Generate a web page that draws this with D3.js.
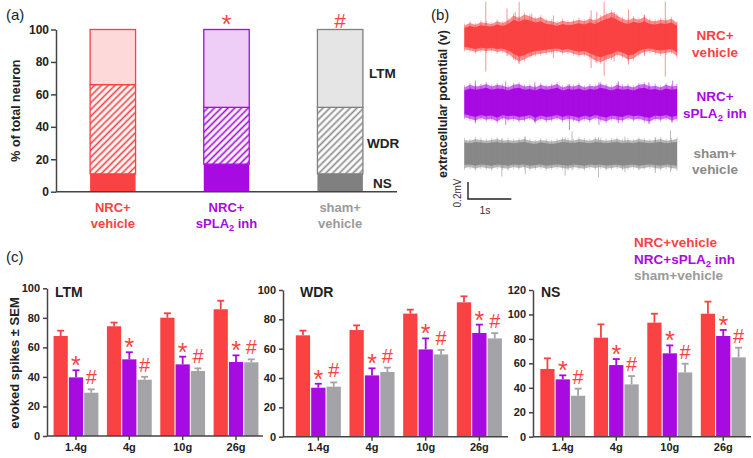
<!DOCTYPE html>
<html>
<head>
<meta charset="utf-8">
<script src="https://cdn.jsdelivr.net/npm/d3@7"></script>
<style>
  html, body { margin: 0; padding: 0; background: #fff; }
  svg { display: block; font-family: "Liberation Sans", Arial, sans-serif; }
  .axis path, .axis line { stroke: #444; stroke-width: 1.5; }
  .axis text { font-weight: bold; fill: #222; }
</style>
</head>
<body>
<svg id="fig" width="753" height="458"></svg>
<script>
/* ============================================
   DATA
   ============================================ */

// (a) neuron type proportions, % of total
const groups = ['NRC+vehicle', 'NRC+sPLA2 inh', 'sham+vehicle'];
const pctNS  = [11, 17, 11];
const pctWDR = [55, 35, 41];
const pctLTM = [34, 48, 48];
const pctTicks = [0, 20, 40, 60, 80, 100];

// (b) recorded traces: envelope (mV above / below baseline) + spikes
const redTop    = [0.14,0.17,0.15,0.18,0.17,0.16,0.19,0.17,0.20,0.26,0.23,0.27,0.25,0.22,0.24,0.20,0.19,0.17,0.20,0.18,
                   0.19,0.21,0.19,0.22,0.20,0.24,0.27,0.30,0.26,0.22,0.20,0.23,0.21,0.24,0.20,0.19,0.21,0.20,0.22,0.17];
const redBottom = [0.14,0.15,0.17,0.15,0.16,0.15,0.17,0.16,0.19,0.24,0.28,0.26,0.22,0.20,0.19,0.18,0.17,0.16,0.18,0.17,
                   0.19,0.21,0.20,0.23,0.27,0.29,0.26,0.24,0.20,0.22,0.26,0.25,0.20,0.17,0.16,0.18,0.19,0.18,0.17,0.22];
const redSpikeT    = [0.49, 0.98, 1.17, 1.26, 1.55, 2.05, 2.92, 3.05, 3.22, 3.45, 3.78, 4.15, 4.63];
const redSpikeUp   = [0.42, 0.34, 0.30, 0.42, 0.28, 0.26, 0.32, 0.30, 0.42, 0.30, 0.33, 0.27, 0.42];
const redSpikeDown = [0.40, 0.22, 0.27, 0.31, 0.22, 0.24, 0.36, 0.30, 0.45, 0.28, 0.32, 0.22, 0.46];

const purTop    = [0.18,0.21,0.19,0.20,0.22,0.19,0.21,0.20,0.18,0.21,0.22,0.19,0.20,0.18,0.21,0.19,0.20,0.22,0.18,0.20,
                   0.19,0.21,0.18,0.20,0.19,0.22,0.20,0.18,0.21,0.19,0.20,0.18,0.21,0.22,0.19,0.20,0.18,0.21,0.19,0.20];
const purBottom = [0.17,0.19,0.21,0.18,0.20,0.19,0.22,0.18,0.20,0.19,0.21,0.20,0.18,0.22,0.19,0.21,0.20,0.18,0.21,0.19,
                   0.20,0.22,0.19,0.21,0.18,0.20,0.22,0.19,0.20,0.21,0.18,0.20,0.19,0.21,0.22,0.19,0.20,0.18,0.21,0.19];
const purSpikeT    = [0.25, 0.95, 1.62, 2.42, 3.10, 3.55, 4.25, 4.80];
const purSpikeUp   = [0.26, 0.25, 0.24, 0.22, 0.24, 0.25, 0.24, 0.26];
const purSpikeDown = [0.24, 0.26, 0.23, 0.32, 0.26, 0.24, 0.25, 0.23];

const grayTop    = [0.16,0.15,0.17,0.16,0.15,0.16,0.17,0.15,0.16,0.15,0.16,0.17,0.15,0.14,0.16,0.15,0.14,0.15,0.17,0.16,
                    0.15,0.17,0.16,0.15,0.17,0.16,0.15,0.16,0.17,0.15,0.16,0.15,0.17,0.16,0.15,0.16,0.17,0.15,0.16,0.17];
const grayBottom = [0.17,0.16,0.18,0.16,0.17,0.18,0.16,0.17,0.18,0.16,0.17,0.16,0.18,0.17,0.16,0.18,0.17,0.16,0.17,0.18,
                    0.16,0.17,0.18,0.16,0.17,0.16,0.18,0.17,0.16,0.18,0.17,0.16,0.18,0.17,0.16,0.17,0.18,0.16,0.17,0.18];
const graySpikeT    = [0.86, 1.40, 2.32, 2.48, 3.09, 3.70, 4.40, 4.75];
const graySpikeUp   = [0.18, 0.20, 0.19, 0.26, 0.19, 0.20, 0.19, 0.27];
const graySpikeDown = [0.27, 0.24, 0.26, 0.20, 0.28, 0.22, 0.23, 0.22];

// (c) evoked spikes, mean and SEM; rows follow `groups`
const forces = ['1.4g', '4g', '10g', '26g'];
const ltmMean = [[67.7, 74.3, 80.1, 85.8], [39.7, 51.9, 48.5, 50.1], [29.3, 38.1, 44.0, 49.9]];
const ltmSem  = [[3.6, 2.5, 3.0, 5.8],     [4.8, 4.8, 5.2, 4.5],     [2.3, 2.0, 1.8, 2.0]];
const wdrMean = [[69.1, 72.7, 83.9, 91.6], [33.4, 41.8, 59.5, 70.7], [34.1, 44.1, 56.1, 67.0]];
const wdrSem  = [[3.2, 3.2, 2.7, 4.1],     [2.7, 4.8, 7.5, 5.7],     [2.9, 3.0, 3.0, 3.6]];
const nsMean  = [[55.4, 81.0, 93.3, 100.6], [46.9, 58.6, 68.2, 82.4], [33.5, 42.8, 52.6, 64.9]];
const nsSem   = [[8.7, 10.9, 7.3, 9.9],     [3.3, 4.9, 6.5, 4.9],     [5.8, 6.8, 7.1, 7.9]];
const ticks100 = [0, 20, 40, 60, 80, 100];
const ticks120 = [0, 20, 40, 60, 80, 100, 120];

/* ============================================
   STYLE
   ============================================ */

const RED = '#fa4242', PURPLE = '#a80ae2', GRAY = '#a3a3a8';
const colors  = [RED, PURPLE, GRAY];
const darkCol = [RED, PURPLE, '#808080'];          // NS segments in (a)
const lightCol = ['#fdd9d9', '#eecdf7', '#e5e5e5'];  // LTM segments in (a)
const hatchCol = [RED, PURPLE, '#8c8c8c'];
const labelCol = [RED, PURPLE, '#9a9a9a'];

const svg = d3.select('#fig');
const defs = svg.append('defs');

hatchCol.forEach((c, i) => {
  const p = defs.append('pattern')
    .attr('id', 'hatch' + i)
    .attr('patternUnits', 'userSpaceOnUse')
    .attr('width', 4.8).attr('height', 4.8)
    .attr('patternTransform', 'rotate(45)');
  p.append('rect').attr('width', 4.8).attr('height', 4.8).attr('fill', '#fff');
  p.append('line').attr('x1', 2.4).attr('x2', 2.4).attr('y1', 0).attr('y2', 4.8)
    .attr('stroke', c).attr('stroke-width', 1.7);
});

// group name with a subscript 2 in "sPLA2"
function groupLabel(sel, name) {
  const parts = name.split('sPLA2');
  if (parts.length === 1) { sel.text(name); return; }
  sel.append('tspan').text(parts[0] + 'sPLA');
  sel.append('tspan').attr('font-size', '0.7em').attr('dy', 3).text('2');
  sel.append('tspan').attr('dy', -3).text(parts[1]);
}

function panelTag(x, y, t) {
  svg.append('text').attr('x', x).attr('y', y)
    .attr('font-size', 15).attr('fill', '#222').text(t);
}

/* ============================================
   (a) STACKED PERCENTAGES
   ============================================ */

(function drawA() {
  panelTag(6, 20, '(a)');

  const y = d3.scaleLinear().domain([0, 100]).range([191.7, 29.5]);
  const x = d3.scaleBand().domain(groups).range([56, 397]).paddingInner(0.6).paddingOuter(0.3);

  const g = svg.append('g');

  groups.forEach((grp, i) => {
    const segs = [
      { lo: 0, hi: pctNS[i], fill: darkCol[i] },
      { lo: pctNS[i], hi: pctNS[i] + pctWDR[i], fill: `url(#hatch${i})` },
      { lo: pctNS[i] + pctWDR[i], hi: pctNS[i] + pctWDR[i] + pctLTM[i], fill: lightCol[i] }
    ];
    g.selectAll(null).data(segs).join('rect')
      .attr('x', x(grp))
      .attr('width', x.bandwidth())
      .attr('y', d => y(d.hi))
      .attr('height', d => y(d.lo) - y(d.hi))
      .attr('fill', d => d.fill)
      .attr('stroke', (d, k) => k === 0 ? 'none' : darkCol[i])
      .attr('stroke-width', 1.3);

    const lab = g.append('text')
      .attr('x', x(grp) + x.bandwidth() / 2)
      .attr('text-anchor', 'middle')
      .attr('font-size', 13).attr('font-weight', 'bold')
      .attr('fill', labelCol[i]);
    const first = grp.startsWith('sham') ? 'sham+' : 'NRC+';
    lab.append('tspan').attr('y', 212).text(first);
    const second = g.append('text')
      .attr('x', x(grp) + x.bandwidth() / 2).attr('y', 228)
      .attr('text-anchor', 'middle')
      .attr('font-size', 13).attr('font-weight', 'bold')
      .attr('fill', labelCol[i]);
    groupLabel(second, grp.replace(first, ''));
  });

  // significance marks
  g.append('text').attr('x', x(groups[1]) + x.bandwidth() / 2).attr('y', 33)
    .attr('text-anchor', 'middle').attr('font-size', 26).attr('fill', RED).text('*');
  g.append('text').attr('x', x(groups[2]) + x.bandwidth() / 2).attr('y', 27.5)
    .attr('text-anchor', 'middle').attr('font-size', 21).attr('fill', RED).text('#');

  const ax = g.append('g').attr('class', 'axis')
    .attr('transform', 'translate(56,0)')
    .call(d3.axisLeft(y).tickValues(pctTicks).tickSize(5).tickPadding(2).tickSizeOuter(0));
  ax.selectAll('text').attr('font-size', 12);
  g.append('line').attr('x1', 56).attr('x2', 397).attr('y1', y(0)).attr('y2', y(0))
    .attr('stroke', '#444').attr('stroke-width', 1.5);

  g.append('text')
    .attr('transform', `translate(20,${(y(0) + y(100)) / 2}) rotate(-90)`)
    .attr('text-anchor', 'middle')
    .attr('font-size', 12.5).attr('font-weight', 'bold').attr('fill', '#222')
    .text('% of total neuron');

  [['LTM', 369, 78], ['WDR', 367, 148], ['NS', 373, 188]].forEach(([t, tx, ty]) => {
    g.append('text').attr('x', tx).attr('y', ty)
      .attr('font-size', 13.5).attr('font-weight', 'bold').attr('fill', '#222').text(t);
  });
})();

/* ============================================
   (b) EXTRACELLULAR TRACES
   ============================================ */

(function drawB() {
  panelTag(431, 20, '(b)');

  const t = d3.scaleLinear().domain([0, 4.9]).range([464.5, 677]);
  const amp = d3.scaleLinear().domain([0, 0.2]).range([0, 17]);   // px per mV from scale bar

  const traces = [
    { top: redTop, bottom: redBottom, st: redSpikeT, su: redSpikeUp, sd: redSpikeDown, c: RED, y0: 37.5 },
    { top: purTop, bottom: purBottom, st: purSpikeT, su: purSpikeUp, sd: purSpikeDown, c: PURPLE, y0: 102.7 },
    { top: grayTop, bottom: grayBottom, st: graySpikeT, su: graySpikeUp, sd: graySpikeDown, c: '#888', y0: 153.5 }
  ];

  const g = svg.append('g');

  traces.forEach(tr => {
    const idx = d3.scaleLinear().domain([0, tr.top.length - 1]).range(t.range());
    const pts = tr.top.map((v, i) => i);

    // spikes first, lighter
    g.selectAll(null).data(tr.st).join('line')
      .attr('x1', d => t(d)).attr('x2', d => t(d))
      .attr('y1', (d, i) => tr.y0 - amp(tr.su[i]))
      .attr('y2', (d, i) => tr.y0 + amp(tr.sd[i]))
      .attr('stroke', tr.c).attr('stroke-width', 1).attr('opacity', 0.55);

    // outer envelope
    g.append('path').datum(pts)
      .attr('d', d3.area()
        .x(i => idx(i))
        .y0(i => tr.y0 + amp(tr.bottom[i]))
        .y1(i => tr.y0 - amp(tr.top[i]))
        .curve(d3.curveLinear))
      .attr('fill', tr.c).attr('opacity', 0.6);

    // dense core
    g.append('path').datum(pts)
      .attr('d', d3.area()
        .x(i => idx(i))
        .y0(i => tr.y0 + amp(tr.bottom[i]) * 0.8)
        .y1(i => tr.y0 - amp(tr.top[i]) * 0.8)
        .curve(d3.curveLinear))
      .attr('fill', tr.c);

    // envelope hairlines for a ragged edge
    g.selectAll(null).data(pts).join('line')
      .attr('x1', i => idx(i)).attr('x2', i => idx(i))
      .attr('y1', i => tr.y0 - amp(tr.top[i]) - 2)
      .attr('y2', i => tr.y0 + amp(tr.bottom[i]) + 2)
      .attr('stroke', tr.c).attr('stroke-width', 0.8).attr('opacity', 0.5);
  });

  // labels on the right
  const labs = [
    ['NRC+', 40, RED], ['vehicle', 57, RED],
    ['NRC+', 101, PURPLE], ['sPLA2 inh', 118, PURPLE],
    ['sham+', 158, '#8a8a8a'], ['vehicle', 174, '#8a8a8a']
  ];
  labs.forEach(([txt, ty, c]) => {
    const el = g.append('text').attr('x', 715).attr('y', ty)
      .attr('text-anchor', 'middle')
      .attr('font-size', 13.5).attr('font-weight', 'bold').attr('fill', c);
    groupLabel(el, txt);
  });

  g.append('text')
    .attr('transform', 'translate(447,104) rotate(-90)')
    .attr('text-anchor', 'middle')
    .attr('font-size', 12.5).attr('font-weight', 'bold').attr('fill', '#222')
    .text('extracellular potential (v)');

  // scale bar: 0.2 mV, 1 s
  const sx = t(0) + 3.5, sy = 199;
  g.append('path')
    .attr('d', `M${sx},${sy - amp(0.2)}V${sy}H${sx + (t(1) - t(0))}`)
    .attr('fill', 'none').attr('stroke', '#222').attr('stroke-width', 1.4);
  g.append('text').attr('transform', `translate(461,${sy - 6}) rotate(-90)`)
    .attr('text-anchor', 'middle').attr('font-size', 10).attr('fill', '#333').text('0.2mV');
  g.append('text').attr('x', sx + 17).attr('y', 213.5)
    .attr('text-anchor', 'middle').attr('font-size', 10.5).attr('fill', '#333').text('1s');
})();

/* ============================================
   (c) EVOKED SPIKES BY STIMULUS FORCE
   ============================================ */

function drawBars(opt) {
  const g = svg.append('g');
  const y = d3.scaleLinear().domain([0, opt.max]).range([opt.y0, opt.y1]);
  const x0 = d3.scaleBand().domain(forces).range([opt.xr0, opt.xr1]);
  const x1 = d3.scaleBand().domain(groups).range([0, x0.bandwidth()])
    .paddingInner(0.07).paddingOuter(0.28);
  const cap = 3.5;

  groups.forEach((grp, s) => {
    forces.forEach((f, k) => {
      const m = opt.mean[s][k], e = opt.sem[s][k];
      const bx = x0(f) + x1(grp), cx = bx + x1.bandwidth() / 2;
      g.append('line').attr('x1', cx).attr('x2', cx)
        .attr('y1', y(m)).attr('y2', y(m + e))
        .attr('stroke', colors[s]).attr('stroke-width', 1.8);
      g.append('line').attr('x1', cx - cap).attr('x2', cx + cap)
        .attr('y1', y(m + e)).attr('y2', y(m + e))
        .attr('stroke', colors[s]).attr('stroke-width', 1.8);
      g.append('rect')
        .attr('x', bx).attr('width', x1.bandwidth())
        .attr('y', y(m)).attr('height', y(0) - y(m))
        .attr('fill', colors[s]);
      if (s === 1) {
        g.append('text').attr('x', cx).attr('y', y(m + e) + 4)
          .attr('text-anchor', 'middle').attr('font-size', 25).attr('fill', RED).text('*');
      }
      if (s === 2) {
        g.append('text').attr('x', cx).attr('y', y(m + e) - 5)
          .attr('text-anchor', 'middle').attr('font-size', 20).attr('fill', RED).text('#');
      }
    });
  });

  const ay = g.append('g').attr('class', 'axis')
    .attr('transform', `translate(${opt.ax},0)`)
    .call(d3.axisLeft(y).tickValues(opt.ticks).tickSize(4).tickPadding(3).tickSizeOuter(0));
  ay.selectAll('text').attr('font-size', 11);

  const axx = g.append('g').attr('class', 'axis')
    .attr('transform', `translate(0,${opt.y0})`)
    .call(d3.axisBottom(x0).tickSize(4).tickPadding(3).tickSizeOuter(0));
  axx.select('.domain').attr('d', `M${opt.ax},0H${opt.xend}`);
  axx.selectAll('text').attr('font-size', 11);

  g.append('text').attr('x', opt.tx).attr('y', 297)
    .attr('font-size', 14).attr('font-weight', 'bold').attr('fill', '#222').text(opt.title);
}

(function drawC() {
  panelTag(6, 262, '(c)');

  drawBars({ title: 'LTM', mean: ltmMean, sem: ltmSem, max: 100, ticks: ticks100,
             y0: 436, y1: 288.3, ax: 47, xr0: 49.3, xr1: 262.7, xend: 263, tx: 55 });
  drawBars({ title: 'WDR', mean: wdrMean, sem: wdrSem, max: 100, ticks: ticks100,
             y0: 436.7, y1: 290, ax: 283, xr0: 291.5, xr1: 506.2, xend: 508, tx: 300 });
  drawBars({ title: 'NS', mean: nsMean, sem: nsSem, max: 120, ticks: ticks120,
             y0: 436.7, y1: 290, ax: 533, xr0: 536, xr1: 750, xend: 751, tx: 541 });

  svg.append('text')
    .attr('transform', 'translate(19,363) rotate(-90)')
    .attr('text-anchor', 'middle')
    .attr('font-size', 13).attr('font-weight', 'bold').attr('fill', '#222')
    .text('evoked spikes ± SEM');

  const legCol = [RED, PURPLE, '#9a9a9a'];
  groups.forEach((grp, i) => {
    const el = svg.append('text').attr('x', 634).attr('y', 247 + i * 16.7)
      .attr('font-size', 13.5).attr('font-weight', 'bold').attr('fill', legCol[i]);
    groupLabel(el, grp);
  });
})();
</script>
</body>
</html>
